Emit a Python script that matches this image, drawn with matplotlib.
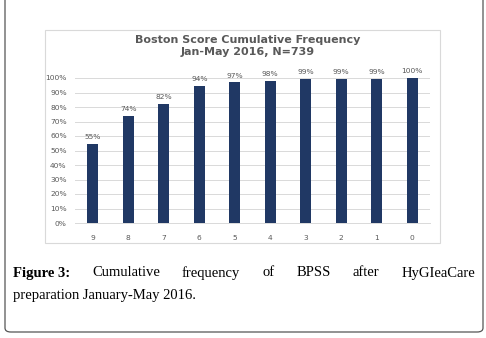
import matplotlib.pyplot as plt
from matplotlib.patches import FancyBboxPatch, Rectangle

# data
scores = ["9", "8", "7", "6", "5", "4", "3", "2", "1", "0"]
cum_pct = [54.5, 74, 82, 94.5, 97, 98, 99.5, 99.5, 99.6, 100]
pct_labels = ["55%", "74%", "82%", "94%", "97%", "98%", "99%", "99%", "99%", "100%"]
yticks = list(range(0, 101, 10))

W, H = 486, 338
fig = plt.figure(figsize=(W / 100, H / 100), dpi=100)

# outer caption frame (rounded)
frame = FancyBboxPatch((5 / W, 6 / H), 478 / W, 360 / H,
                       boxstyle="round,pad=0,rounding_size=0.012",
                       transform=fig.transFigure, fill=False,
                       edgecolor="#555555", linewidth=0.9)
fig.patches.append(frame)

# chart area border
fig.patches.append(Rectangle((45 / W, 1 - 243 / H), 395 / W, 213 / H,
                             transform=fig.transFigure, fill=False,
                             edgecolor="#d9d9d9", linewidth=0.8))

ax = fig.add_axes([75 / W, 1 - 223 / H, 355 / W, 145 / H])
x = range(len(scores))
ax.bar(x, cum_pct, width=0.31, color="#203864", zorder=3)
for xi, v, lab in zip(x, cum_pct, pct_labels):
    ax.text(xi, v + 2.5, lab, ha="center", va="bottom", fontsize=5.4, color="#595959")

ax.set_xlim(-0.5, len(scores) - 0.5)
ax.set_ylim(0, 100)
ax.set_yticks(yticks)
ax.set_yticklabels([f"{t}%" for t in yticks])
ax.set_xticks(list(x))
ax.set_xticklabels(scores)
ax.tick_params(length=0, labelsize=5.4, labelcolor="#595959", pad=9)
ax.tick_params(axis="y", pad=6)
ax.grid(axis="y", color="#d9d9d9", linewidth=0.7, zorder=0)
for s in ["top", "right", "left"]:
    ax.spines[s].set_visible(False)
ax.spines["bottom"].set_color("#d9d9d9")
ax.spines["bottom"].set_linewidth(0.7)

fig.text(248 / W, 1 - 46 / H, "Boston Score Cumulative Frequency\nJan-May 2016, N=739",
         ha="center", va="center", fontsize=8.0, fontweight="bold",
         color="#595959", linespacing=1.25)

# caption, justified first line
fam = "Liberation Serif"
fs = 10.5
y1 = 1 - 273 / H
y2 = 1 - 295 / H
words = [("Figure 3:", "bold"), ("Cumulative", "normal"), ("frequency", "normal"),
         ("of", "normal"), ("BPSS", "normal"), ("after", "normal"),
         ("HyGIeaCare", "normal")]
left, right = 13 / W, 475 / W
fig.canvas.draw()
r = fig.canvas.get_renderer()
objs = [fig.text(0, y1, w, fontsize=fs, family=fam, fontweight=wt, va="center")
        for w, wt in words]
widths = [o.get_window_extent(r).width / (W) for o in objs]
gap = (right - left - sum(widths)) / (len(words) - 1)
pos = left
for o, wd in zip(objs, widths):
    o.set_x(pos)
    pos += wd + gap
fig.text(left, y2, "preparation January-May 2016.", fontsize=fs, family=fam, va="center")

fig.savefig("out.png", dpi=100)
